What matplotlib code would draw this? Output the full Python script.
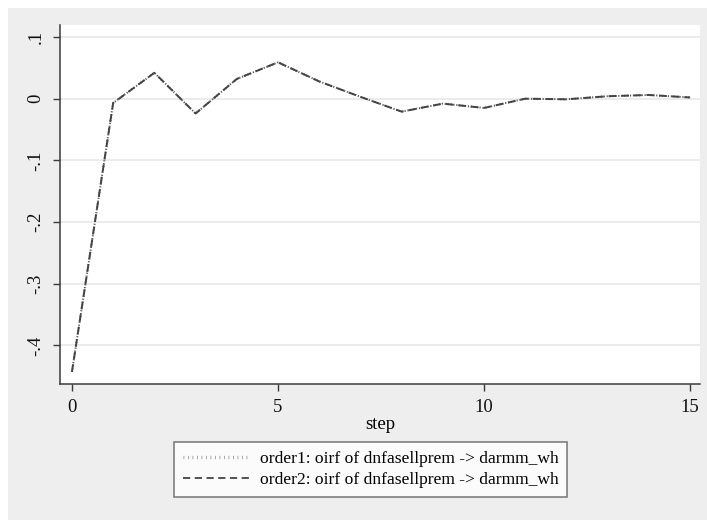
import numpy as np
import matplotlib.pyplot as plt
from matplotlib.patches import Rectangle
from matplotlib.lines import Line2D

steps = np.arange(16)
order1 = [-0.443, -0.007, 0.042, -0.024, 0.032, 0.059, 0.028, 0.003,
          -0.021, -0.008, -0.015, 0.000, -0.001, 0.004, 0.006, 0.002]
order2 = list(order1)

yticks = [0.1, 0.0, -0.1, -0.2, -0.3, -0.4]
ytick_labels = ['.1', '0', '-.1', '-.2', '-.3', '-.4']
xticks = [0, 5, 10, 15]
labels = ['order1: oirf of dnfasellprem -> darmm_wh',
          'order2: oirf of dnfasellprem -> darmm_wh']

plt.rcParams['font.family'] = ['Liberation Serif', 'DejaVu Serif']
dark = '#3a3a3a'
bg = '#eeeeee'

fig = plt.figure(figsize=(7.07, 5.2), dpi=100)
fig.patch.set_facecolor('white')
fig.patches.append(Rectangle((8 / 707, 0), 1, 1 - 8 / 520, transform=fig.transFigure,
                             facecolor=bg, edgecolor='none', zorder=-10))

ax = fig.add_axes([60 / 707, 1 - 384 / 520, 640 / 707, 359 / 520])
ax.set_facecolor('white')

ax.plot(steps, order1, color='#555555', lw=1.4, linestyle=(0, (0.6, 0.9)), zorder=3)
ax.plot(steps, order2, color='#444444', lw=1.4, linestyle=(0, (4, 2.5)), zorder=4)

ax.set_xlim(-0.29, 15.24)
ax.set_ylim(-0.4627, 0.1195)
ax.set_yticks(yticks)
ax.set_yticklabels(ytick_labels, rotation=90, va='center')
ax.set_xticks(xticks)
ax.grid(axis='y', color='#e8e8e8', lw=1.2)
ax.set_axisbelow(True)

for s in ['top', 'right']:
    ax.spines[s].set_visible(False)
for s in ['left', 'bottom']:
    ax.spines[s].set_color(dark)
    ax.spines[s].set_linewidth(1.1)
ax.tick_params(direction='out', length=5, width=1, color=dark, labelsize=13.5,
               labelcolor='#111111', pad=6)
ax.set_xlabel('step', fontsize=13.5, labelpad=0)

handles = [Line2D([], [], color='#999999', lw=2.4, linestyle=(0, (0.25, 1.1))),
           Line2D([], [], color='#444444', lw=1.3, linestyle=(0, (4, 2.5)))]
leg = fig.legend(handles, labels, loc='center', bbox_to_anchor=(370.5 / 707, 1 - 469.5 / 520),
                 fontsize=12.6, frameon=True, fancybox=False, handlelength=3.8,
                 handletextpad=0.6, borderpad=0.5, labelspacing=0.3)
leg.get_frame().set_edgecolor('#555555')
leg.get_frame().set_linewidth(1.1)
leg.get_frame().set_facecolor('white')

fig.savefig('out.png', dpi=100, facecolor=fig.get_facecolor())
